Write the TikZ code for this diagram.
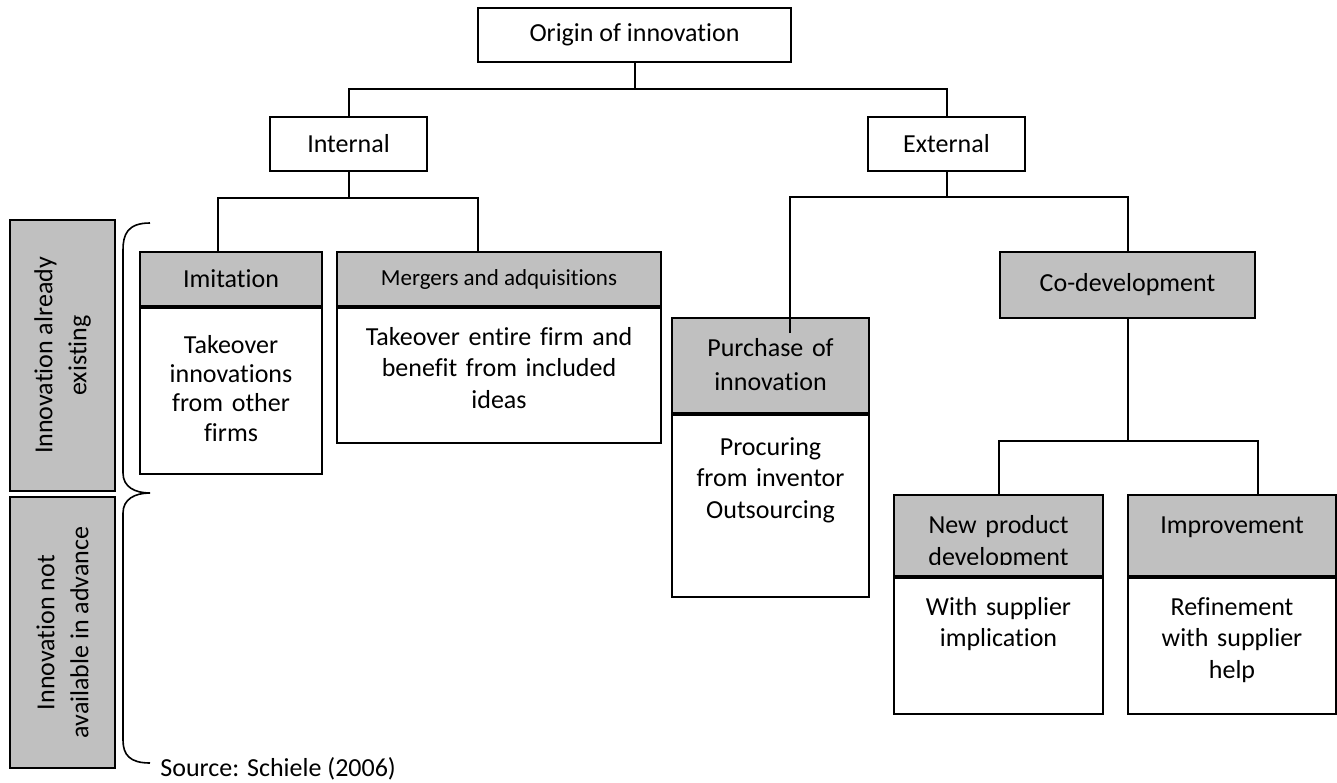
\documentclass[tikz,border=0pt]{standalone}
\usepackage{fontspec}
\setmainfont{Carlito}[Ligatures=NoCommon]
\usetikzlibrary{calc}
\definecolor{hdgray}{HTML}{C0C0C0}
\newcommand{\mainsz}{\fontsize{13}{15.8}\selectfont}
\tikzset{box/.style={draw=black, line width=1pt, inner sep=0pt, font=\mainsz}, head/.style={box, fill=hdgray}, cell/.style={box, fill=white}, txt/.style={inner sep=0pt, align=center, font=\mainsz}, link/.style={line width=1pt}, side/.style={box, fill=hdgray, rotate=90, align=center, font=\fontsize{13}{17}\selectfont, minimum width=135.5pt, minimum height=52.5pt}}

\begin{document}
\begin{tikzpicture}[x=0.5pt, y=-0.5pt]
\useasboundingbox (0,0) rectangle (1337,782);
% top levels
\node[box, minimum width=156.5pt, minimum height=27pt] (orig) at (634.5,35) {Origin of innovation};
\node[box, minimum width=78.5pt, minimum height=27pt] (intl) at (348.5,144) {Internal};
\node[box, minimum width=78.5pt, minimum height=27pt] (extl) at (946.5,144) {External};
% internal branch
\node[head, minimum width=91pt, minimum height=27pt] (imith) at (231,279) {Imitation};
\node[cell, anchor=north, minimum width=91pt, minimum height=83pt] (imitb) at (imith.south) {};
\node[txt, anchor=base, text width=91pt, font=\fontsize{13}{14.7}\selectfont] (imitt) at (231,353) {Takeover\\innovations\\from other\\firms};
\node[head, font=\fontsize{11.5}{14}\selectfont, minimum width=162pt, minimum height=27pt] (mergh) at (499,279) {Mergers and adquisitions};
\node[cell, anchor=north, minimum width=162pt, minimum height=67.5pt] (mergb) at (mergh.south) {};
\node[txt, anchor=base, text width=162pt] (mergt) at (499,345) {Takeover entire firm and\\benefit from included\\ideas};
% external branch
\node[head, minimum width=98.5pt, minimum height=47.5pt] (purch) at (770.5,365.5) {};
\node[txt, anchor=base, text width=98.5pt, font=\fontsize{13}{17}\selectfont] (purcht) at (770.5,356) {Purchase of\\innovation};
\node[cell, anchor=north, minimum width=98.5pt, minimum height=91pt] (purcb) at (purch.south) {};
\node[txt, anchor=base, text width=98.5pt] (purct) at (770.5,455) {Procuring\\from inventor\\Outsourcing};
\node[head, minimum width=127.5pt, minimum height=33pt] (codev) at (1127.5,285) {Co-development};
\node[head, minimum width=104.5pt, minimum height=40.5pt] (npdh) at (998.5,535.5) {};
\begin{scope}
\clip (894,495) rectangle (1103,564);
\node[txt, anchor=base, text width=104.5pt, font=\fontsize{13}{16}\selectfont] (npdt) at (998.5,533) {New product\\development};
\end{scope}
\node[cell, anchor=north, minimum width=104.5pt, minimum height=68pt] (npdb) at (npdh.south) {};
\node[txt, anchor=base, text width=104.5pt] (npdbt) at (998.5,615) {With supplier\\implication};
\node[head, minimum width=104pt, minimum height=40.5pt] (imprh) at (1232,535.5) {};
\node[txt, anchor=base] (imprt) at (1232,533) {Improvement};
\node[cell, anchor=north, minimum width=104pt, minimum height=68pt] (imprb) at (imprh.south) {};
\node[txt, anchor=base, text width=104pt] (imprbt) at (1232,615) {Refinement\\with supplier\\help};
% side labels and brace
\node[side] (sideA) at (62.5,355.5) {Innovation already\\existing};
\node[side] (sideB) at (62.5,632.5) {Innovation not\\available in advance};
\draw[line width=0.8pt] (150,223) .. controls (127,223) and (123,235) .. (123,250) -- (123,473) .. controls (123,487) and (135,493) .. (150,493) .. controls (135,493) and (123,499) .. (123,513) -- (123,740) .. controls (123,755) and (130,763) .. (150,763);
\node[anchor=base west, inner sep=0pt, font=\mainsz] (src) at (160,776) {Source: Schiele (2006)};
% connectors
\coordinate (jO) at (634.5,89);
\draw[link] (orig.south) -- (jO);
\draw[link] (intl.north) |- (jO) -| (extl.north);
\coordinate (jI) at (348.5,198); \coordinate (jIa) at (218,198); \coordinate (jIb) at (478,198);
\draw[link] (intl.south) -- (jI);
\draw[link] (imith.north -| jIa) -- (jIa) -- (jIb) -- (mergh.north -| jIb);
\coordinate (jE) at (946.5,197); \coordinate (jEa) at (790,197); \coordinate (jEb) at (1127.5,197); \coordinate (pin) at (790,333);
\draw[link] (extl.south) -- (jE);
\draw[link] (pin) -- (jEa) -- (jEb) -- (codev.north);
\coordinate (jC) at (1127.5,441); \coordinate (jCb) at (1258,441);
\draw[link] (codev.south) -- (jC);
\draw[link] (npdh.north) |- (jCb) -- (imprh.north -| jCb);
\end{tikzpicture}
\end{document}
